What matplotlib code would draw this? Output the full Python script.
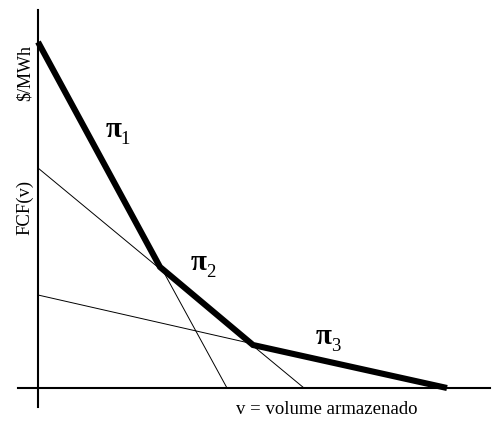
import matplotlib
matplotlib.use("Agg")
import matplotlib.pyplot as plt

# ====== DATA ======
# Benders cuts: cost at v = 0 and volume where each cut reaches zero
cut_intercepts = [34.6, 22.0, 9.3]
cut_zeros = [18.9, 26.6, 40.9]

# Future cost function (upper envelope of the cuts)
fcf_v = [0.0, 12.2, 21.5, 40.9]
fcf_cost = [34.6, 12.1, 4.3, 0.0]

slope_subscripts = ["1", "2", "3"]
slope_label_pos = [(7.55, 25.8), (16.1, 12.5), (28.6, 5.1)]

plt.rcParams["font.family"] = ["Liberation Serif", "DejaVu Serif"]

fig = plt.figure(figsize=(4.94, 4.21), dpi=100)
ax = fig.add_axes([0, 0, 1, 1])
ax.set_xlim(-3.8, 45.6)
ax.set_ylim(-3.3, 38.8)

# ====== CUTS (thin) ======
for b, z in zip(cut_intercepts, cut_zeros):
    ax.plot([0, z], [b, 0], color="black", linewidth=0.7)

# ====== FCF (thick) ======
ax.plot(fcf_v, fcf_cost, color="black", linewidth=4.4,
        solid_joinstyle="miter", solid_capstyle="butt")

# pi labels with a big bold pi and a lowered plain subscript
for sub, (x, y) in zip(slope_subscripts, slope_label_pos):
    ax.text(x, y, "π", fontsize=21, fontweight="bold", ha="center", va="center")
    ax.annotate(sub, (x, y), xytext=(8.5, -6.5), textcoords="offset points",
                fontsize=13.5, ha="center", va="center")

# ====== AXES ======
for side in ["top", "right"]:
    ax.spines[side].set_visible(False)
ax.spines["left"].set_position(("data", 0))
ax.spines["bottom"].set_position(("data", 0))
ax.spines["left"].set_bounds(-1.9, 37.8)
ax.spines["bottom"].set_bounds(-2.0, 45.2)
ax.spines["left"].set_linewidth(1.5)
ax.spines["bottom"].set_linewidth(1.5)
ax.set_xticks([])
ax.set_yticks([])
ax.patch.set_alpha(0)

ax.text(-1.3, 31.5, "$/MWh", fontsize=13, rotation=90, ha="center", va="center")
ax.text(-1.3, 18.1, "FCF(v)", fontsize=13.5, rotation=90, ha="center", va="center")
ax.text(28.9, -2.2, "v = volume armazenado", fontsize=13.5, ha="center", va="center")

plt.savefig("out.png", dpi=100)
